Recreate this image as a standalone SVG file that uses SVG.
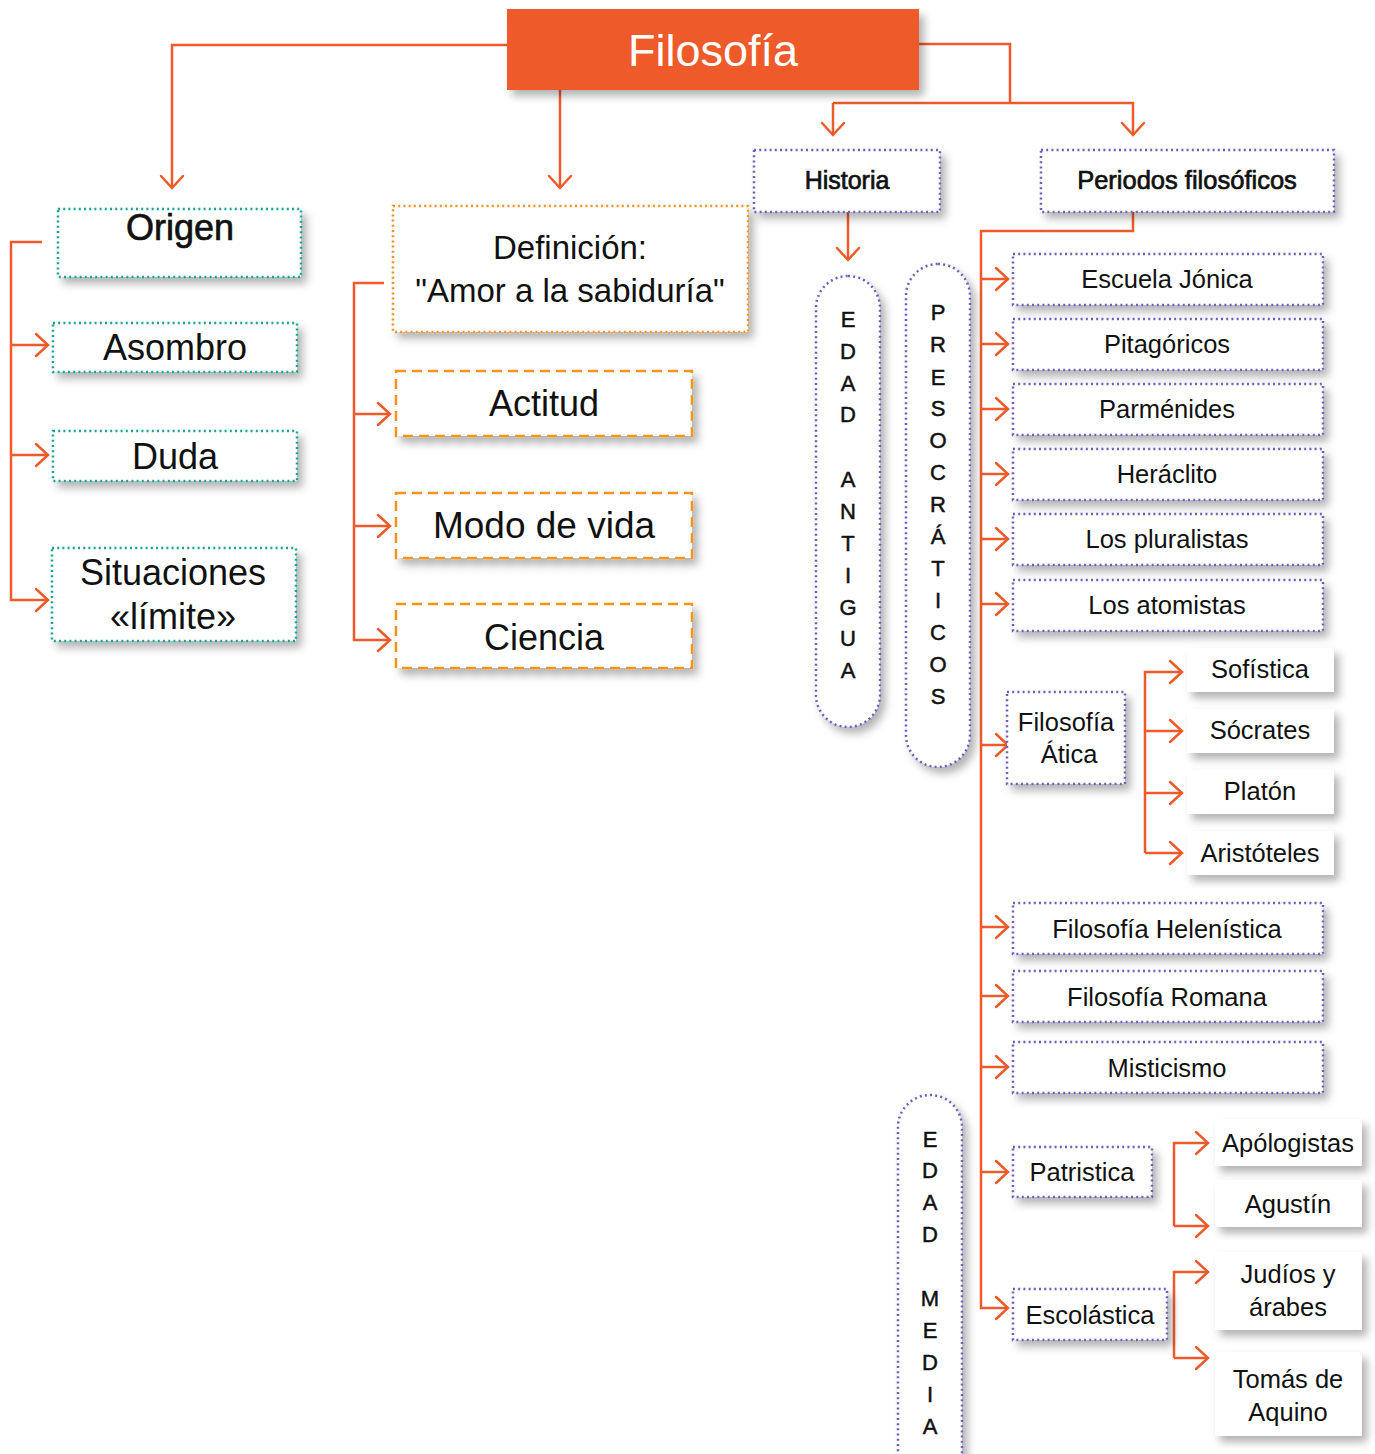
<svg xmlns="http://www.w3.org/2000/svg" width="1375" height="1454" viewBox="0 0 1375 1454">
<style>
text{font-family:"Liberation Sans",Arial,sans-serif;fill:#111;text-anchor:middle}
.teal{fill:#fff;stroke:#17a595;stroke-width:2.5;stroke-dasharray:2 3.2}
.orD{fill:#fff;stroke:#f7931e;stroke-width:2.5;stroke-dasharray:2 3.2}
.orS{fill:#fff;stroke:#f7931e;stroke-width:2.5;stroke-dasharray:10 6}
.pur{fill:#fff;stroke:#6f5fba;stroke-width:2.5;stroke-dasharray:2 3.2}
.wht{fill:#fff}
.t36{font-size:36px}
.t33{font-size:33px}
.t25{font-size:25.5px}
.tb{font-size:25px;stroke:#111;stroke-width:0.7}
.v{font-size:22px;stroke:#111;stroke-width:0.5}
.con path{fill:none;stroke:#ee5a2a;stroke-width:2.5;marker-end:url(#ah)}
.con path.nm{marker-end:none}
</style>
<defs>
<filter id="sh" x="-20%" y="-20%" width="150%" height="160%">
<feDropShadow dx="5" dy="6" stdDeviation="4" flood-color="#000" flood-opacity="0.3"/>
</filter>
<marker id="ah" viewBox="-14 -13 16 26" refX="0" refY="0" markerWidth="16" markerHeight="26" markerUnits="userSpaceOnUse" orient="auto">
<path d="M-12,-11 L0,0 L-12,11" fill="none" stroke="#ee5a2a" stroke-width="2.5" stroke-linecap="round"/>
</marker>
</defs>
<rect width="1375" height="1454" fill="#fff"/>

<g class="con" id="connectors">
<path d="M507,45 H172 V188"/>
<path d="M560,90 V188"/>
<path class="nm" d="M919,44 H1010 V103"/>
<path d="M833,103 H1133 V135"/>
<path d="M833,103 V135"/>
<path d="M42,242 H11 V600 H48"/>
<path d="M11,345 H48"/>
<path d="M11,455 H48"/>
<path d="M384,283 H354 V640 H390"/>
<path d="M354,414 H390"/>
<path d="M354,526 H390"/>
<path d="M848,212 V260"/>
<path d="M1133,212 V231 H981 V1308 H1008"/>
<path d="M981,279 H1008"/>
<path d="M981,344 H1008"/>
<path d="M981,409 H1008"/>
<path d="M981,474 H1008"/>
<path d="M981,539 H1008"/>
<path d="M981,604 H1008"/>
<path d="M981,745 H1008"/>
<path d="M981,927 H1008"/>
<path d="M981,996 H1008"/>
<path d="M981,1067 H1008"/>
<path d="M981,1172 H1008"/>
<path d="M1145,853 V672 H1182"/>
<path d="M1145,731 H1182"/>
<path d="M1145,793 H1182"/>
<path d="M1145,853 H1182"/>
<path d="M1174,1226 V1143 H1208"/>
<path d="M1174,1226 H1208"/>
<path d="M1174,1358 V1272 H1208"/>
<path d="M1174,1358 H1208"/>
</g>

<g id="filosofia"><rect x="507" y="9" width="412" height="81" fill="#ee5a2a" filter="url(#sh)"/><text x="713" y="66" style="font-size:45px;fill:#fff">Filosofía</text></g>

<g id="origen"><rect class="teal" x="58" y="209" width="243" height="68" filter="url(#sh)"/><text class="t36" x="180" y="240" stroke="#111" stroke-width="0.7">Origen</text></g>
<g id="asombro"><rect class="teal" x="53" y="323" width="244" height="49" filter="url(#sh)"/><text class="t36" x="175" y="360">Asombro</text></g>
<g id="duda"><rect class="teal" x="53" y="431" width="244" height="50" filter="url(#sh)"/><text class="t36" x="175" y="469">Duda</text></g>
<g id="situaciones"><rect class="teal" x="52" y="548" width="244" height="93" filter="url(#sh)"/><text class="t36" x="173" y="585">Situaciones</text><text class="t36" x="173" y="629">«límite»</text></g>

<g id="definicion"><rect class="orD" x="393" y="206" width="355" height="126" filter="url(#sh)"/><text class="t33" x="570" y="259">Definición:</text><text class="t33" x="570" y="302">"Amor a la sabiduría"</text></g>
<g id="actitud"><rect class="orS" x="396" y="371" width="296" height="65" filter="url(#sh)"/><text class="t36" x="544" y="416">Actitud</text></g>
<g id="modo"><rect class="orS" x="396" y="493" width="296" height="65" filter="url(#sh)"/><text class="t36" x="544" y="538" style="font-size:37px">Modo de vida</text></g>
<g id="ciencia"><rect class="orS" x="396" y="604" width="296" height="64" filter="url(#sh)"/><text class="t36" x="544" y="650">Ciencia</text></g>

<g id="historia"><rect class="pur" x="754" y="150" width="186" height="62" filter="url(#sh)"/><text class="tb" x="847" y="189">Historia</text></g>
<g id="periodos"><rect class="pur" x="1041" y="150" width="293" height="62" filter="url(#sh)"/><text class="tb" x="1187" y="189" style="font-size:25.5px">Periodos filosóficos</text></g>

<g id="edad-antigua"><rect class="pur" x="816" y="276" width="64" height="451" rx="32" filter="url(#sh)"/>
<text class="v" x="848" y="327">E</text><text class="v" x="848" y="359">D</text><text class="v" x="848" y="391">A</text><text class="v" x="848" y="422">D</text>
<text class="v" x="848" y="487">A</text><text class="v" x="848" y="519">N</text><text class="v" x="848" y="551">T</text><text class="v" x="848" y="583">I</text><text class="v" x="848" y="615">G</text><text class="v" x="848" y="646">U</text><text class="v" x="848" y="678">A</text></g>

<g id="presocraticos"><rect class="pur" x="906" y="264" width="64" height="503" rx="32" filter="url(#sh)"/>
<text class="v" x="938" y="320">P</text><text class="v" x="938" y="352">R</text><text class="v" x="938" y="385">E</text><text class="v" x="938" y="416">S</text><text class="v" x="938" y="448">O</text><text class="v" x="938" y="480">C</text><text class="v" x="938" y="512">R</text><text class="v" x="938" y="544">Á</text><text class="v" x="938" y="576">T</text><text class="v" x="938" y="608">I</text><text class="v" x="938" y="640">C</text><text class="v" x="938" y="672">O</text><text class="v" x="938" y="704">S</text></g>

<g id="edad-media"><rect class="pur" x="898" y="1095" width="64" height="390" rx="32" filter="url(#sh)"/>
<text class="v" x="930" y="1147">E</text><text class="v" x="930" y="1178">D</text><text class="v" x="930" y="1210">A</text><text class="v" x="930" y="1242">D</text>
<text class="v" x="930" y="1306">M</text><text class="v" x="930" y="1338">E</text><text class="v" x="930" y="1370">D</text><text class="v" x="930" y="1402">I</text><text class="v" x="930" y="1434">A</text></g>

<g id="jonica"><rect class="pur" x="1013" y="254" width="310" height="51" filter="url(#sh)"/><text class="t25" x="1167" y="288">Escuela Jónica</text></g>
<g id="pitagoricos"><rect class="pur" x="1013" y="319" width="310" height="51" filter="url(#sh)"/><text class="t25" x="1167" y="353">Pitagóricos</text></g>
<g id="parmenides"><rect class="pur" x="1013" y="384" width="310" height="51" filter="url(#sh)"/><text class="t25" x="1167" y="418">Parménides</text></g>
<g id="heraclito"><rect class="pur" x="1013" y="449" width="310" height="51" filter="url(#sh)"/><text class="t25" x="1167" y="483">Heráclito</text></g>
<g id="pluralistas"><rect class="pur" x="1013" y="514" width="310" height="51" filter="url(#sh)"/><text class="t25" x="1167" y="548">Los pluralistas</text></g>
<g id="atomistas"><rect class="pur" x="1013" y="580" width="310" height="51" filter="url(#sh)"/><text class="t25" x="1167" y="614">Los atomistas</text></g>

<g id="atica"><rect class="pur" x="1007" y="692" width="118" height="92" filter="url(#sh)"/><text class="t25" x="1066" y="731">Filosofía</text><text class="t25" x="1069" y="763">Ática</text></g>
<g id="sofistica"><rect class="wht" x="1187" y="648" width="147" height="44" filter="url(#sh)"/><text class="t25" x="1260" y="678">Sofística</text></g>
<g id="socrates"><rect class="wht" x="1187" y="709" width="147" height="44" filter="url(#sh)"/><text class="t25" x="1260" y="739">Sócrates</text></g>
<g id="platon"><rect class="wht" x="1187" y="770" width="147" height="44" filter="url(#sh)"/><text class="t25" x="1260" y="800">Platón</text></g>
<g id="aristoteles"><rect class="wht" x="1187" y="831" width="147" height="44" filter="url(#sh)"/><text class="t25" x="1260" y="862">Aristóteles</text></g>

<g id="helenistica"><rect class="pur" x="1013" y="903" width="310" height="51" filter="url(#sh)"/><text class="t25" x="1167" y="938">Filosofía Helenística</text></g>
<g id="romana"><rect class="pur" x="1013" y="971" width="310" height="51" filter="url(#sh)"/><text class="t25" x="1167" y="1006">Filosofía Romana</text></g>
<g id="misticismo"><rect class="pur" x="1013" y="1042" width="310" height="51" filter="url(#sh)"/><text class="t25" x="1167" y="1077">Misticismo</text></g>

<g id="patristica"><rect class="pur" x="1013" y="1147" width="139" height="50" filter="url(#sh)"/><text class="t25" x="1082" y="1181">Patristica</text></g>
<g id="apologistas"><rect class="wht" x="1215" y="1119" width="147" height="47" filter="url(#sh)"/><text class="t25" x="1288" y="1152">Apólogistas</text></g>
<g id="agustin"><rect class="wht" x="1215" y="1180" width="147" height="47" filter="url(#sh)"/><text class="t25" x="1288" y="1213">Agustín</text></g>

<g id="escolastica"><rect class="pur" x="1013" y="1289" width="154" height="51" filter="url(#sh)"/><text class="t25" x="1090" y="1324">Escolástica</text></g>
<g id="judios"><rect class="wht" x="1215" y="1252" width="147" height="78" filter="url(#sh)"/><text class="t25" x="1288" y="1283">Judíos y</text><text class="t25" x="1288" y="1316">árabes</text></g>
<g id="tomas"><rect class="wht" x="1215" y="1352" width="147" height="84" filter="url(#sh)"/><text class="t25" x="1288" y="1388">Tomás de</text><text class="t25" x="1288" y="1421">Aquino</text></g>
</svg>
